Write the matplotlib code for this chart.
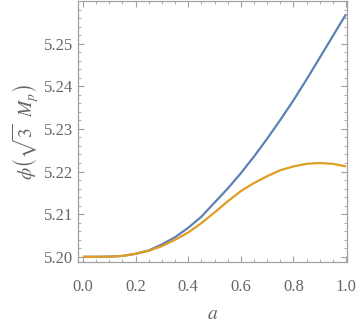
import matplotlib
matplotlib.use("Agg")
import matplotlib.pyplot as plt
from matplotlib.ticker import MultipleLocator

a_vals = [0.0, 0.05, 0.1, 0.15, 0.2, 0.25, 0.3, 0.35, 0.4, 0.45, 0.5,
          0.55, 0.6, 0.65, 0.7, 0.75, 0.8, 0.85, 0.9, 0.95, 1.0]
phi_blue = [5.2000, 5.20000, 5.20005, 5.2002, 5.2007, 5.2015, 5.2029, 5.2046,
            5.2068, 5.2094, 5.2127, 5.2160, 5.2196, 5.2235, 5.2277, 5.2321,
            5.2367, 5.2416, 5.2467, 5.2518, 5.2569]
phi_orange = [5.2000, 5.20000, 5.20005, 5.2002, 5.2007, 5.2014, 5.2025, 5.2040,
              5.2057, 5.2079, 5.2104, 5.2130, 5.2154, 5.2173, 5.2189, 5.2203,
              5.2212, 5.2218, 5.2220, 5.2218, 5.2212]

x_ticks = [0.0, 0.2, 0.4, 0.6, 0.8, 1.0]
y_ticks = [5.20, 5.21, 5.22, 5.23, 5.24, 5.25]

plt.rcParams['mathtext.fontset'] = 'stix'
plt.rcParams['font.family'] = ['Liberation Serif', 'DejaVu Serif']

gray = '#666666'
frame = '#a0a0a0'

fig = plt.figure(figsize=(3.56, 3.27), dpi=100)
ax = fig.add_axes([0.219, 0.199, 0.756, 0.798])

ax.plot(a_vals, phi_blue, color='#5E81B5', lw=1.6, solid_capstyle='butt')
ax.plot(a_vals, phi_orange, color='#E19C24', lw=1.6, solid_capstyle='butt')

ax.set_xlim(-0.019, 1.004)
ax.set_ylim(5.1988, 5.2600)
ax.set_xticks(x_ticks)
ax.set_xticklabels([f"{v:.1f}" for v in x_ticks])
ax.set_yticks(y_ticks)
ax.set_yticklabels([f"{v:.2f}" for v in y_ticks])
ax.xaxis.set_minor_locator(MultipleLocator(0.05))
ax.yaxis.set_minor_locator(MultipleLocator(0.002))

for s in ax.spines.values():
    s.set_color(frame)
    s.set_linewidth(0.9)

ax.tick_params(which='both', direction='in', top=True, right=True,
               color=frame, labelcolor=gray, labelsize=12)
ax.tick_params(which='major', length=4, width=0.8)
ax.tick_params(which='minor', length=2.2, width=0.6)
ax.tick_params(axis='x', pad=12)
ax.tick_params(axis='y', pad=3.5)

ax.set_xlabel(r'$a$', color=gray, fontsize=14, labelpad=8)
ax.set_ylabel(r'$\phi\left(\sqrt{3}\ \ M_p\right)$', color=gray, fontsize=14, labelpad=2)

fig.savefig('out.png', dpi=100)
